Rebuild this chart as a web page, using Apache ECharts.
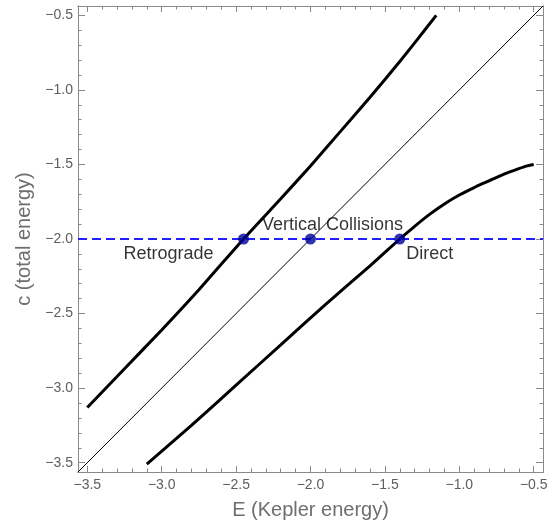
<!DOCTYPE html>
<html>
<head>
<meta charset="utf-8">
<script src="https://cdn.jsdelivr.net/npm/echarts@6/dist/echarts.min.js"></script>
<style>
  html, body { margin: 0; padding: 0; background: #fff; }
  #chart { width: 560px; height: 531px; }
</style>
</head>
<body>
<div id="chart"></div>
<script>
// Plot range shared by both axes (E and c)
const axisMin = -3.5625;
const axisMax = -0.4375;

// Tick positions
const majorTicks = [-3.5, -3.0, -2.5, -2.0, -1.5, -1.0, -0.5];
const minorTicks = [-3.4, -3.3, -3.2, -3.1, -2.9, -2.8, -2.7, -2.6, -2.4, -2.3, -2.2, -2.1,
                    -1.9, -1.8, -1.7, -1.6, -1.4, -1.3, -1.2, -1.1, -0.9, -0.8, -0.7, -0.6];

// Retrograde branch: Kepler energy E vs total energy c
const retrogradeE = [-3.50, -3.25, -3.00, -2.75, -2.45, -2.20, -2.00, -1.80, -1.60, -1.40, -1.28, -1.155];
const retrogradeC = [-3.13, -2.87, -2.61, -2.34, -2.00, -1.73, -1.51, -1.28, -1.05, -0.81, -0.66, -0.50];

// Direct branch
const directE = [-3.10, -2.80, -2.50, -2.20, -1.90, -1.60, -1.40, -1.30, -1.20, -1.10, -1.00, -0.90, -0.80, -0.70, -0.60, -0.55, -0.50];
const directC = [-3.51, -3.25, -2.98, -2.71, -2.44, -2.18, -2.00, -1.915, -1.835, -1.765, -1.705, -1.655, -1.61, -1.565, -1.528, -1.511, -1.50];

// Vertical collisions: c = E
const diagonalE = [axisMin, axisMax];
const diagonalC = [axisMin, axisMax];

// Fixed total energy level and the three crossings
const levelC = -2.0;
const crossingE = [-2.45, -2.00, -1.40];
const crossingNames = ['Retrograde', 'Vertical Collisions', 'Direct'];

const zip = (xs, ys) => xs.map((x, i) => [x, ys[i]]);
const fmt = v => v.toFixed(1).replace('-', '\u2212');

const frameColor = '#8a8a8a';
const tickText = { color: '#5e5e5e', fontSize: 14, fontFamily: 'Liberation Sans, Arial, sans-serif' };
const titleText = { color: '#6e6e6e', fontSize: 20, fontFamily: 'Liberation Sans, Arial, sans-serif' };

function frameAxis(position, ticks, len, withLabels, margin, extra) {
  return Object.assign({
    type: 'value',
    position: position,
    min: axisMin,
    max: axisMax,
    axisLine: { show: true, lineStyle: { color: frameColor, width: 1 } },
    axisTick: { show: true, inside: true, length: len, customValues: ticks,
                lineStyle: { color: frameColor, width: 1 } },
    axisLabel: withLabels ? Object.assign({ show: true, margin: margin, customValues: ticks,
                formatter: fmt }, tickText) : { show: false },
    splitLine: { show: false }
  }, extra || {});
}

const option = {
  animation: false,
  backgroundColor: '#ffffff',
  grid: { left: 78, right: 17, top: 6, bottom: 59, containLabel: false },
  xAxis: [
    frameAxis('bottom', majorTicks, 6, true, 6, {
      name: 'E (Kepler energy)', nameLocation: 'middle', nameGap: 28, nameTextStyle: titleText
    }),
    frameAxis('bottom', minorTicks, 3.5, false),
    frameAxis('top', majorTicks, 6, false),
    frameAxis('top', minorTicks, 3.5, false)
  ],
  yAxis: [
    frameAxis('left', majorTicks, 7, true, 5, {
      name: 'c (total energy)', nameLocation: 'middle', nameGap: 43, nameRotate: 90, nameTextStyle: titleText
    }),
    frameAxis('left', minorTicks, 3.5, false),
    frameAxis('right', majorTicks, 7, false),
    frameAxis('right', minorTicks, 3.5, false)
  ],
  series: [
    {
      name: 'Vertical',
      type: 'line',
      data: zip(diagonalE, diagonalC),
      showSymbol: false,
      lineStyle: { color: '#000', width: 1 },
      z: 2
    },
    {
      name: 'Retrograde',
      type: 'line',
      data: zip(retrogradeE, retrogradeC),
      showSymbol: false,
      smooth: 0.2,
      lineStyle: { color: '#000', width: 3 },
      z: 3
    },
    {
      name: 'Direct',
      type: 'line',
      data: zip(directE, directC),
      showSymbol: false,
      smooth: 0.2,
      lineStyle: { color: '#000', width: 3 },
      z: 3
    },
    {
      name: 'Level',
      type: 'line',
      data: [[axisMin, levelC], [axisMax, levelC]],
      showSymbol: false,
      lineStyle: { color: '#2020ff', width: 2, type: [9, 5] },
      z: 4
    },
    {
      name: 'Crossings',
      type: 'scatter',
      symbol: 'circle',
      symbolSize: 11,
      itemStyle: { color: '#000098' },
      z: 5,
      label: {
        show: true,
        position: 'inside',
        color: '#000',
        fontSize: 18,
        fontFamily: 'Liberation Sans, Arial, sans-serif',
        formatter: p => crossingNames[p.dataIndex]
      },
      data: [
        { value: [crossingE[0], levelC], label: { offset: [-75, 15] } },
        { value: [crossingE[1], levelC], label: { offset: [22, -14] } },
        { value: [crossingE[2], levelC], label: { offset: [30, 15] } }
      ]
    }
  ]
};

const chart = echarts.init(document.getElementById('chart'), null, { renderer: 'canvas' });
chart.setOption(option);
</script>
</body>
</html>
